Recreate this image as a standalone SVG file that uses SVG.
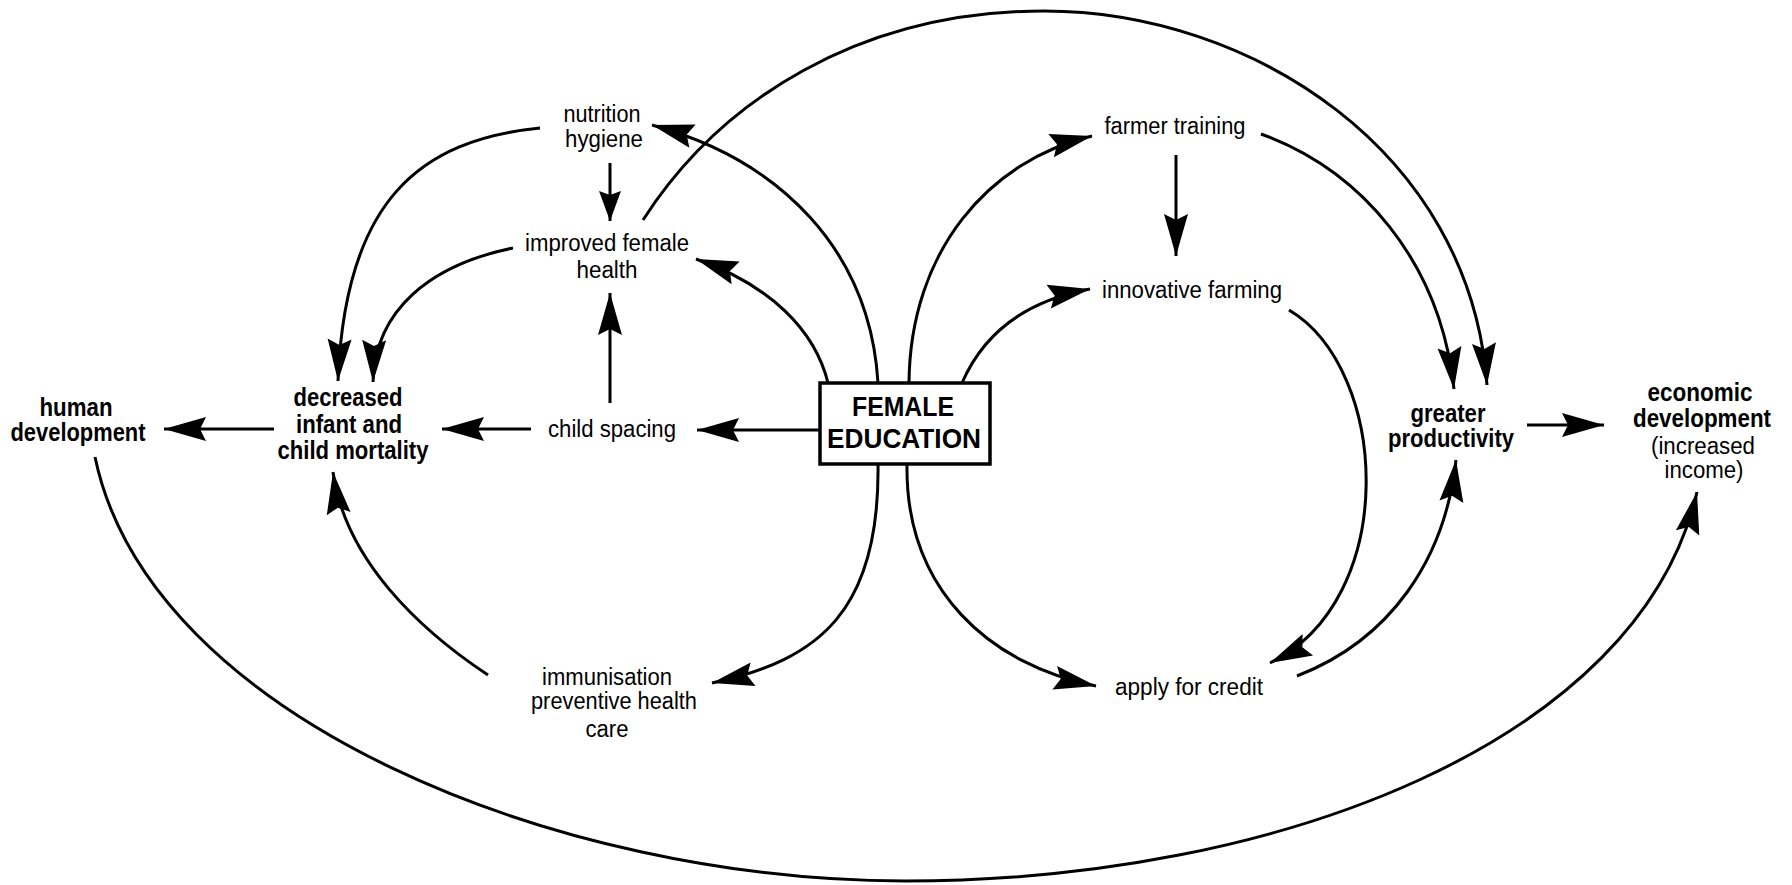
<svg xmlns="http://www.w3.org/2000/svg" width="1792" height="885" viewBox="0 0 1792 885">
<style>
text{font-family:"Liberation Sans",Arial,sans-serif;fill:#000;text-anchor:middle}
.r{font-size:23px}
.b{font-size:25px;font-weight:bold}
.f{font-size:28px;font-weight:bold}
.c{fill:none;stroke:#000;stroke-width:3;marker-end:url(#ah)}
.s{marker-end:url(#ahs)}
.n{fill:none;stroke:#000;stroke-width:3}
</style>
<defs>
<marker id="ah" markerUnits="userSpaceOnUse" markerWidth="46" markerHeight="28" refX="44" refY="14" orient="auto" overflow="visible">
<path d="M44,14 L2,2 L8,14 L2,26 Z" fill="#000"/>
</marker>
<marker id="ahs" markerUnits="userSpaceOnUse" markerWidth="34" markerHeight="26" refX="32" refY="12" orient="auto" overflow="visible">
<path d="M32,12 L2,1 L6,12 L2,23 Z" fill="#000"/>
</marker>
</defs>
<rect width="1792" height="885" fill="#fff"/>

<g id="connectors">
<!-- straight -->
<path class="c" d="M820,430 L697,430"/>
<path class="c" d="M531,429 L442,429"/>
<path class="c" d="M274,429 L164,429"/>
<path class="c s" d="M610,163 L610,221"/>
<path class="c" d="M610,403 L610,293"/>
<path class="c" d="M1176,155 L1176,256"/>
<path class="c" d="M1527,425 L1604,425"/>
<!-- left curves -->
<path class="c" d="M878,383 C870,250 780,160 652,125"/>
<path class="c" d="M828,383 C815,330 770,285 696,259"/>
<path class="c" d="M540,128 C420,140 345,200 338,381"/>
<path class="c" d="M513,248 C430,265 375,310 373,382"/>
<path class="c" d="M488,675 C420,630 345,560 333,472"/>
<path class="c" d="M878,464 C880,610 820,660 712,683"/>
<!-- right curves -->
<path class="c" d="M909,383 C910,250 990,160 1092,136"/>
<path class="c" d="M962,383 C985,330 1030,300 1090,289"/>
<path class="c" d="M1261,134 C1360,170 1440,260 1454,389"/>
<path class="c" d="M1289,310 C1390,370 1400,600 1270,663"/>
<path class="c" d="M907,464 C905,590 990,665 1096,686"/>
<path class="c" d="M1297,676 C1390,640 1445,560 1456,460"/>
<!-- big arcs -->
<path class="c" d="M643,220 C720,100 860,11 1044,11 C1250,11 1470,150 1487,385"/>
<path class="c" d="M95,457 C150,720 560,881 905,881 C1280,881 1640,740 1697,492"/>
</g>

<g id="female-education">
<rect x="820" y="383" width="170" height="81" fill="#fff" stroke="#000" stroke-width="3.5"/>
<text class="f" x="903" y="416" textLength="102" lengthAdjust="spacingAndGlyphs">FEMALE</text>
<text class="f" x="904" y="448" textLength="154" lengthAdjust="spacingAndGlyphs">EDUCATION</text>
</g>
<g id="nutrition-hygiene">
<text class="r" x="602" y="122" textLength="77" lengthAdjust="spacingAndGlyphs">nutrition</text>
<text class="r" x="604" y="147" textLength="78" lengthAdjust="spacingAndGlyphs">hygiene</text>
</g>
<g id="improved-female-health">
<text class="r" x="607" y="251" textLength="164" lengthAdjust="spacingAndGlyphs">improved female</text>
<text class="r" x="607" y="278" textLength="61" lengthAdjust="spacingAndGlyphs">health</text>
</g>
<g id="child-spacing">
<text class="r" x="612" y="437" textLength="128" lengthAdjust="spacingAndGlyphs">child spacing</text>
</g>
<g id="immunisation">
<text class="r" x="607" y="685" textLength="130" lengthAdjust="spacingAndGlyphs">immunisation</text>
<text class="r" x="614" y="709" textLength="166" lengthAdjust="spacingAndGlyphs">preventive health</text>
<text class="r" x="607" y="737" textLength="43" lengthAdjust="spacingAndGlyphs">care</text>
</g>
<g id="decreased-mortality">
<text class="b" x="348" y="406" textLength="109" lengthAdjust="spacingAndGlyphs">decreased</text>
<text class="b" x="349" y="433" textLength="106" lengthAdjust="spacingAndGlyphs">infant and</text>
<text class="b" x="353" y="459" textLength="151" lengthAdjust="spacingAndGlyphs">child mortality</text>
</g>
<g id="human-development">
<text class="b" x="76" y="416" textLength="73" lengthAdjust="spacingAndGlyphs">human</text>
<text class="b" x="78" y="441" textLength="135" lengthAdjust="spacingAndGlyphs">development</text>
</g>
<g id="farmer-training">
<text class="r" x="1175" y="134" textLength="141" lengthAdjust="spacingAndGlyphs">farmer training</text>
</g>
<g id="innovative-farming">
<text class="r" x="1192" y="298" textLength="180" lengthAdjust="spacingAndGlyphs">innovative farming</text>
</g>
<g id="apply-for-credit">
<text class="r" x="1189" y="695" textLength="148" lengthAdjust="spacingAndGlyphs">apply for credit</text>
</g>
<g id="greater-productivity">
<text class="b" x="1448" y="422" textLength="75" lengthAdjust="spacingAndGlyphs">greater</text>
<text class="b" x="1451" y="447" textLength="126" lengthAdjust="spacingAndGlyphs">productivity</text>
</g>
<g id="economic-development">
<text class="b" x="1700" y="401" textLength="105" lengthAdjust="spacingAndGlyphs">economic</text>
<text class="b" x="1702" y="427" textLength="138" lengthAdjust="spacingAndGlyphs">development</text>
<text class="r" x="1703" y="454" textLength="104" lengthAdjust="spacingAndGlyphs">(increased</text>
<text class="r" x="1704" y="478" textLength="79" lengthAdjust="spacingAndGlyphs">income)</text>
</g>
</svg>
